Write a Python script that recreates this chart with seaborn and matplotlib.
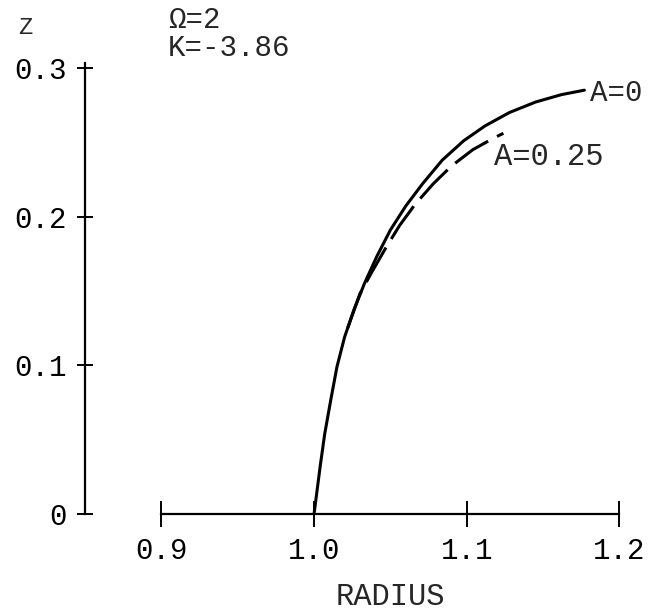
import matplotlib
matplotlib.use("Agg")
import matplotlib.pyplot as plt
import matplotlib.transforms as mtransforms
import pandas as pd
import seaborn as sns

# Meniscus profiles z(r) for two values of A
radius_a0 = [1.000, 1.004, 1.007, 1.011, 1.015, 1.020, 1.026, 1.033, 1.041,
             1.050, 1.060, 1.071, 1.084, 1.098, 1.112, 1.128, 1.145, 1.162, 1.177]
z_a0 = [0.000, 0.032, 0.054, 0.077, 0.099, 0.119, 0.137, 0.155, 0.173,
        0.191, 0.207, 0.222, 0.238, 0.251, 0.261, 0.270, 0.277, 0.282, 0.285]

radius_a025 = [1.022, 1.030, 1.038, 1.047, 1.056, 1.066, 1.078, 1.090,
               1.104, 1.118, 1.124]
z_a025 = [0.125, 0.148, 0.163, 0.179, 0.194, 0.208, 0.222, 0.234,
          0.245, 0.253, 0.256]

series_labels = ["A=0", "A=0.25"]
x_ticks = [0.9, 1.0, 1.1, 1.2]
x_tick_labels = ["0.9", "1.0", "1.1", "1.2"]
y_ticks = [0.0, 0.1, 0.2, 0.3]
y_tick_labels = ["0", "0.1", "0.2", "0.3"]
params_text = ["\u03a9=2", "K=-3.86"]

df = pd.concat([
    pd.DataFrame({"radius": radius_a0, "z": z_a0, "series": series_labels[0]}),
    pd.DataFrame({"radius": radius_a025, "z": z_a025, "series": series_labels[1]}),
], ignore_index=True)

sns.set_theme(style="ticks")
plt.rcParams["font.family"] = ["Liberation Mono", "DejaVu Sans Mono"]

fig = plt.figure(figsize=(6.64, 6.11), dpi=100)
ax = fig.add_axes([85 / 664, 97 / 611, 565 / 664, 461 / 611])

sns.lineplot(
    data=df, x="radius", y="z", style="series",
    dashes={series_labels[0]: "", series_labels[1]: (13, 3.3)},
    color="black", linewidth=2.2, legend=False, ax=ax, sort=True,
)

ax.set_xlim(0.85, 1.22)
ax.set_ylim(0.0, 0.31)

for side in ("top", "right"):
    ax.spines[side].set_visible(False)
for side in ("left", "bottom"):
    ax.spines[side].set_color("black")
    ax.spines[side].set_linewidth(1.6)
ax.spines["bottom"].set_bounds(0.9, 1.2)
ax.spines["left"].set_bounds(0.0, 0.303)

ax.set_xticks(x_ticks)
ax.set_xticklabels(x_tick_labels)
ax.set_yticks(y_ticks)
ax.set_yticklabels(y_tick_labels)
ax.tick_params(axis="x", bottom=True, direction="inout", length=18.7, width=1.4,
               pad=7.2, labelsize=21, colors="black")
ax.tick_params(axis="y", left=True, direction="inout", length=11.5, width=1.4,
               pad=7.2, labelsize=21, colors="black")
ax.set_xlabel("")
ax.set_ylabel("")
ax.grid(False)

# Curve labels
ax.text(1.1807, 0.283, series_labels[0], fontsize=21, ha="left", va="center")
ax.text(1.1179, 0.240, series_labels[1], fontsize=22, ha="left", va="center")

# Parameter block above the plot
ax.text(0.9044, 0.332, params_text[0], fontsize=21, ha="left", va="center", clip_on=False)
ax.text(0.9044, 0.3134, params_text[1], fontsize=21, ha="left", va="center", clip_on=False)

# Axis titles
fig.text(25 / 664, 1 - 27 / 611, "Z", fontsize=17, ha="center", va="center")
trans = mtransforms.blended_transform_factory(ax.transData, fig.transFigure)
ax.text(1.05, 1 - 597 / 611, "RADIUS", transform=trans, fontsize=22,
        ha="center", va="center")

fig.savefig("out.png", dpi=100, facecolor="white")
